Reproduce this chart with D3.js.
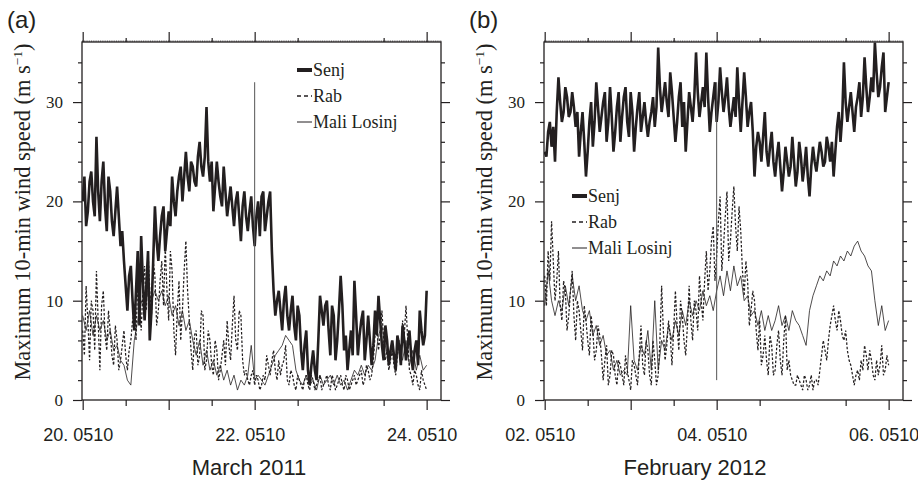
<!DOCTYPE html>
<html>
<head>
<meta charset="utf-8">
<script src="https://cdn.jsdelivr.net/npm/d3@7"></script>
<style>
  html, body { margin: 0; padding: 0; background: #fff; }
  svg { display: block; }
</style>
</head>
<body>
<svg id="chart" width="918" height="481"></svg>
<script>
// ---------------- DATA ----------------
const seriesNames = ["Senj", "Rab", "Mali Losinj"];
const spanDays = 4;              // each series covers 4 days, evenly sampled
const startA = 20.051;           // March 2011, day.fraction
const startB = 2.051;            // February 2012, day.fraction

const senjA = [20,22.5,17.5,19,22,23,20,18.5,26.5,21,18,22,24,19.5,17,22.5,21,18,16.5,19,21.5,18.5,15.5,17,14,11.5,9,12.5,13.5,10,7,11,15,7.5,16.5,12,8,11.5,15,6,9,14,19.5,16,14,16.5,18.5,19.5,15,17,19,17.5,22.5,20,18.5,21,22.5,23.5,20,22.5,25,22.5,21,24,23.5,22,21.5,24.5,26,23.5,22.5,24.5,29.5,24,22,24,19,21.5,24,22,20.5,19.5,23.5,21,18.5,20,21.5,19.5,17.5,20,21,18.5,16,19.5,21,18.5,17,19,20.5,17.5,15.5,18.5,20,16.5,20.5,21,17,18.5,20,21,15,11,8.5,10,11,9,7,10,11.5,8.5,7,9,10.5,7.5,6,9.5,8.5,5,3,5.5,7,3,1.5,3.5,5,3,2,6,10.5,9,7.5,9.5,10,7,4.5,9.5,8.5,4,6,9,12.5,9.5,5,6.5,3,5,7,4.5,12,8.5,4.5,6.5,8,9,4,6,8.5,6,3.5,5.5,9,6.5,10.5,8,5.5,4,7.5,6,3.5,5,6,4.5,3,6.5,5.5,3.5,7.5,6,4,5.5,7,4.5,3,5,6,3.5,9,7,5.5,6.5,11];
const rabA  = [7,4.5,11.5,8,4,10,9,5,13,8,3,9.5,11,6.5,5,9,7,4.5,3.5,7.5,6,3,4,5.5,7,4.5,3,5,6,8,9,6,12,10,7,11,13.5,9,15,11,8.5,14,12.5,7.5,9,12,14,9.5,15.5,11,8,15,13,7,4.5,9,12,6,9,13,16,11,8,5,3,6.5,7,3.5,4.5,9,8.5,3,4,7,6,3.5,2.5,6,5,2,3,4.5,6,3.5,8,5.5,4,7.5,10.5,6,5,9,8.5,4,2.5,3,2,1.5,2.5,3,1.5,2.5,2,1,1.5,2.5,2,4.5,3.5,2.5,4,5,3,2,4,2.5,3.5,4,5.5,2,1.5,3,2.5,1.5,1,2.5,2,1.5,1,2,2.5,1.5,1,2.5,2,1,1.5,2,2.5,1,1.5,2,2.5,1.5,1,2.5,2,1,1.5,2,2.5,1.5,1,2.5,2,1,1.5,2,2.5,1.5,2,2.5,3,1.5,2,3.5,3,2,2.5,4,6.5,7.5,5,6.5,9,6,4,5,3,4,5,3.5,2.5,4.5,6,4,8,6.5,9.5,6,3,2.5,1.5,3,2.5,1.5,1,3,2,1.5,1];
const maliA = [8.5,7,9,6.5,8.5,7,8,6,7,5,5.5,4,3.5,2,1.5,6,8,10,9,11,10,11,10,11,9.5,10.5,8.5,9.5,7.5,9,7,8,6,4.5,6,3.5,5,3,4,2.5,3.5,2,3,1.5,2.5,1,2,1.5,2.5,5.5,2,2.5,2,1.5,2.5,3.5,4.5,5,5.5,6.5,6,5.5,3,2,1.5,2.5,1.5,2,1,2.5,1.5,2,2.5,1.5,2.5,1.5,2,1,2,3,2.5,3.5,2.5,3.5,3,4,6.5,7.5,5.5,4,5,3.5,5.5,4,6,3.5,5,3,4.5,3,3.5];

const senjB = [25,24.5,27,28,25.5,27.5,24,29,32.5,30,28,29,31.5,30.5,28.5,29,31,29.5,27.5,29,24.5,27,29,26,22.5,25,28,30,25.5,28,32,29.5,27,28.5,30,31,26,28,31.5,28.5,25,27,29.5,31,26,28.5,30.5,31.5,28,26.5,31,29,25,27.5,29.5,31,27,28.5,30,28,26.5,28,29,30.5,27.5,29.5,35.5,31.5,29,30.5,32,30,28.5,33,31,28.5,26,28,30.5,32,27.5,30,25,28,31,29.5,28,30.5,35,31,28.5,30,31.5,29.5,35,30.5,27,29,30.5,32,28,30,33.5,31,29,30.5,32.5,29.5,27.5,29,30.5,28.5,33.5,30,27,30,33,30.5,27.5,29,30,27,22.5,25.5,27,26,24,26.5,29,25,23.5,25.5,27,24,22.5,24.5,26,23.5,21,23,25.5,24,22.5,23.5,26.5,24,21.5,23,26,24.5,22,23.5,25.5,22.5,20.5,23.5,25.5,24,23,24.5,26,25,23.5,24,26.5,25.5,24,26,22.5,25,27.5,29,26,28.5,34,30,28,29.5,31,29,27,29.5,30.5,32,28.5,30.5,34.5,31.5,29,30.5,32.5,31,36,33,30.5,31.5,33.5,35,29,30.5,32];
const rabB  = [12.5,9.5,15,12,18,14,10,12,15,9.5,8,12,11,7,8.5,11,13,8.5,6,10,9,7,5,9.5,8,6,4.5,8.5,7,4,5,7.5,6.5,4.5,2,4,5.5,1.5,2.5,5,4.5,2.5,1.5,4,3.5,2.5,1.5,4.5,3,2,1,4,3.5,2.5,1.5,4.5,7.5,3.5,2.5,6,5,2.5,1.5,6,4,1.5,2.5,6,11.5,7,4,5.5,8,6.5,3.5,7,11,7.5,5,10,8.5,6,4.5,7.5,11.5,8,6,10,9,7,12.5,10,8,12,15,11,13,16,17.5,12,14.5,18,20.5,13,15.5,18.5,21,14,16,19,21.5,17.5,15,19.5,17,13,10.5,14,12,7.5,9,11,10,7,5,8,3.5,4.5,6.5,4,2.5,6.5,5.5,2.5,3,5.5,7,4,2.5,6,8.5,3,4,2.5,2,1.5,1.5,2.5,2,1.5,1,2.5,2,1,1.5,2.5,1,2,2,1.5,3,4.5,6,5,4,6,7.5,8.5,9.5,8,7,9,8,6.5,6,7,5,4,3.5,2.5,1.5,2.5,3,2,4,3,5.5,4.5,3,5,4,2.5,2,4,2.5,3.5,5.5,2.5,3,4.5,3.5];
const maliB = [9.5,13,10,8.5,10,9,11.5,9.5,12.5,10,11.5,9,8,9,6.5,7.5,5.5,6.5,4.5,5,3,4,2.5,3,2.5,9.5,4,3,5.5,4.5,7,3,10,3,6,5,7.5,6,8,6.5,9,7.5,10,8.5,10,9,11,9.5,10.5,9,11,12.5,10.5,13,11,13.5,11.5,12.5,10,10.5,8.5,9,7.5,9,7,8.5,7,8,9.5,7.5,8.5,7,9,8,7.5,6.5,5.5,9,10.5,11.5,12.5,12,13,12.5,14,13.5,14.5,14,15,14.5,15.5,16,15,14.5,13.5,13,10,7.5,9.5,7,8];

const yTicks = [0, 10, 20, 30];
const yMinorTicks = [2,4,6,8,12,14,16,18,22,24,26,28,32,34];
const xTickValsA = [20.051, 22.051, 24.051];
const xTickValsB = [2.051, 4.051, 6.051];
const xTickLabelsA = ["20. 0510", "22. 0510", "24. 0510"];
const xTickLabelsB = ["02. 0510", "04. 0510", "06. 0510"];
const xMidTicksA = [21.051];
const xMidTicksB = [3.051];
const xHalfTicksA = [20.551, 21.551, 22.551, 23.551];
const xHalfTicksB = [2.551, 3.551, 4.551, 5.551];
const markerA = { t: 22.051, top: 32, bottom: 2 };
const markerB = { t: 4.051, top: 32, bottom: 2 };
const panelLetters = ["(a)", "(b)"];
const xTitles = ["March 2011", "February 2012"];

// ---------------- DRAWING ----------------
const svg = d3.select("#chart");
const SANS = "'Liberation Sans', Arial, Helvetica, sans-serif";
const SERIF = "'Liberation Serif', 'Times New Roman', Times, serif";
const INK = "#231f20";

function panel(cfg) {
  const L = cfg.left, R = cfg.left + 359, T = 42, B = 400;
  const g = svg.append("g");
  const x = d3.scaleLinear().domain([cfg.start - 0.008, cfg.start + 4.167]).range([L, R]);
  const y = d3.scaleLinear().domain([0, 36.05]).range([B, T]);

  const clipId = "clip" + cfg.idx;
  svg.append("clipPath").attr("id", clipId).append("rect")
    .attr("x", L).attr("y", T).attr("width", R - L).attr("height", B - T);

  const lineFor = arr => {
    const step = spanDays / (arr.length - 1);
    return d3.line().x((d, i) => x(cfg.start + i * step)).y(d => y(d))(arr);
  };
  const dg = g.append("g").attr("clip-path", `url(#${clipId})`);

  dg.append("path").attr("d", lineFor(cfg.mali))
    .attr("fill", "none").attr("stroke", INK).attr("stroke-width", 0.8);
  dg.append("path").attr("d", lineFor(cfg.rab))
    .attr("fill", "none").attr("stroke", INK).attr("stroke-width", 1.25)
    .attr("stroke-dasharray", "2.5,1.8");
  dg.append("path").attr("d", lineFor(cfg.senj))
    .attr("fill", "none").attr("stroke", INK).attr("stroke-width", 2.6)
    .attr("stroke-linejoin", "miter").attr("stroke-miterlimit", 3);

  dg.append("line")
    .attr("x1", x(cfg.marker.t)).attr("x2", x(cfg.marker.t))
    .attr("y1", y(cfg.marker.top)).attr("y2", y(cfg.marker.bottom))
    .attr("stroke", "#555").attr("stroke-width", 1);

  const axStyle = sel => {
    sel.select(".domain").remove();
    sel.selectAll(".tick line").attr("stroke", INK).attr("stroke-width", 1.2);
  };
  g.append("g").attr("transform", `translate(${L},0)`)
    .call(d3.axisLeft(y).tickValues(yTicks).tickSize(9).tickPadding(10).tickFormat(d3.format("d")))
    .call(axStyle)
    .call(s => s.selectAll("text").attr("font-family", SERIF).attr("font-size", 17).attr("fill", INK));
  g.append("g").attr("transform", `translate(${L},0)`)
    .call(d3.axisLeft(y).tickValues(yMinorTicks).tickSize(4).tickFormat(""))
    .call(axStyle);
  g.append("g").attr("transform", `translate(${R},0)`)
    .call(d3.axisRight(y).tickValues(yTicks).tickSize(9).tickFormat(""))
    .call(axStyle);
  g.append("g").attr("transform", `translate(${R},0)`)
    .call(d3.axisRight(y).tickValues(yMinorTicks).tickSize(4).tickFormat(""))
    .call(axStyle);
  g.append("g").attr("transform", `translate(0,${B})`)
    .call(d3.axisBottom(x).tickValues(cfg.xTicks).tickSize(10).tickPadding(18)
      .tickFormat((d, i) => cfg.xLabels[i]))
    .call(axStyle)
    .call(s => s.selectAll("text").attr("font-family", SANS).attr("font-size", 18)
      .attr("fill", INK).attr("dx", -5));
  g.append("g").attr("transform", `translate(0,${B})`)
    .call(d3.axisBottom(x).tickValues(cfg.midTicks).tickSize(10).tickFormat(""))
    .call(axStyle);
  g.append("g").attr("transform", `translate(0,${B})`)
    .call(d3.axisBottom(x).tickValues(cfg.halfTicks).tickSize(6).tickFormat(""))
    .call(axStyle);
  g.append("g").attr("transform", `translate(0,${T})`)
    .call(d3.axisTop(x).tickValues(cfg.xTicks.concat(cfg.midTicks)).tickSize(10).tickFormat(""))
    .call(axStyle);
  g.append("g").attr("transform", `translate(0,${T})`)
    .call(d3.axisTop(x).tickValues(cfg.halfTicks).tickSize(4).tickFormat(""))
    .call(axStyle);
  const fine = d3.range(0, 201).map(k => cfg.start - 0.008 + k / 48).filter(v => x(v) <= R);
  g.append("g").attr("transform", `translate(0,${T})`)
    .call(d3.axisTop(x).tickValues(fine).tickSize(1.6).tickFormat(""))
    .call(s => { s.select(".domain").remove(); s.selectAll(".tick line").attr("stroke", INK).attr("stroke-width", 0.6); });

  g.append("rect").attr("x", L).attr("y", T).attr("width", R - L).attr("height", B - T)
    .attr("fill", "none").attr("stroke", INK).attr("stroke-width", 1.3);

  g.append("text").attr("x", L - 75).attr("y", 28).text(cfg.letter)
    .attr("font-family", SANS).attr("font-size", 24).attr("fill", INK);

  const yl = g.append("text")
    .attr("transform", `translate(${L - 52},212) rotate(-90)`)
    .attr("text-anchor", "middle")
    .attr("font-family", SERIF).attr("font-size", 22.4).attr("fill", INK);
  yl.append("tspan").text("Maximum 10-min wind speed (m s");
  yl.append("tspan").text("\u22121").attr("font-size", 13.5).attr("dy", -8);
  yl.append("tspan").text(")").attr("dy", 8);

  g.append("text").attr("x", cfg.titleX).attr("y", 475).attr("text-anchor", "middle")
    .attr("font-family", SANS).attr("font-size", 22).attr("fill", INK).text(cfg.xTitle);

  const lg = g.append("g");
  const styles = [
    { w: 4, dash: null },
    { w: 1.5, dash: "4,3" },
    { w: 1, dash: null }
  ];
  seriesNames.forEach((name, i) => {
    const by = cfg.legY + i * 26;
    lg.append("line").attr("x1", cfg.legX).attr("x2", cfg.legX + 15)
      .attr("y1", by - 6).attr("y2", by - 6)
      .attr("stroke", INK).attr("stroke-width", styles[i].w)
      .attr("stroke-dasharray", styles[i].dash);
    lg.append("text").attr("x", cfg.legX + 16).attr("y", by).text(name)
      .attr("font-family", SERIF).attr("font-size", 18).attr("fill", INK);
  });
}

panel({ idx: 0, left: 82, start: startA, senj: senjA, rab: rabA, mali: maliA,
  xTicks: xTickValsA, xLabels: xTickLabelsA, midTicks: xMidTicksA, halfTicks: xHalfTicksA,
  marker: markerA, letter: panelLetters[0], xTitle: xTitles[0], titleX: 249,
  legX: 297, legY: 76 });
panel({ idx: 1, left: 544, start: startB, senj: senjB, rab: rabB, mali: maliB,
  xTicks: xTickValsB, xLabels: xTickLabelsB, midTicks: xMidTicksB, halfTicks: xHalfTicksB,
  marker: markerB, letter: panelLetters[1], xTitle: xTitles[1], titleX: 695,
  legX: 572, legY: 202 });
</script>
</body>
</html>
